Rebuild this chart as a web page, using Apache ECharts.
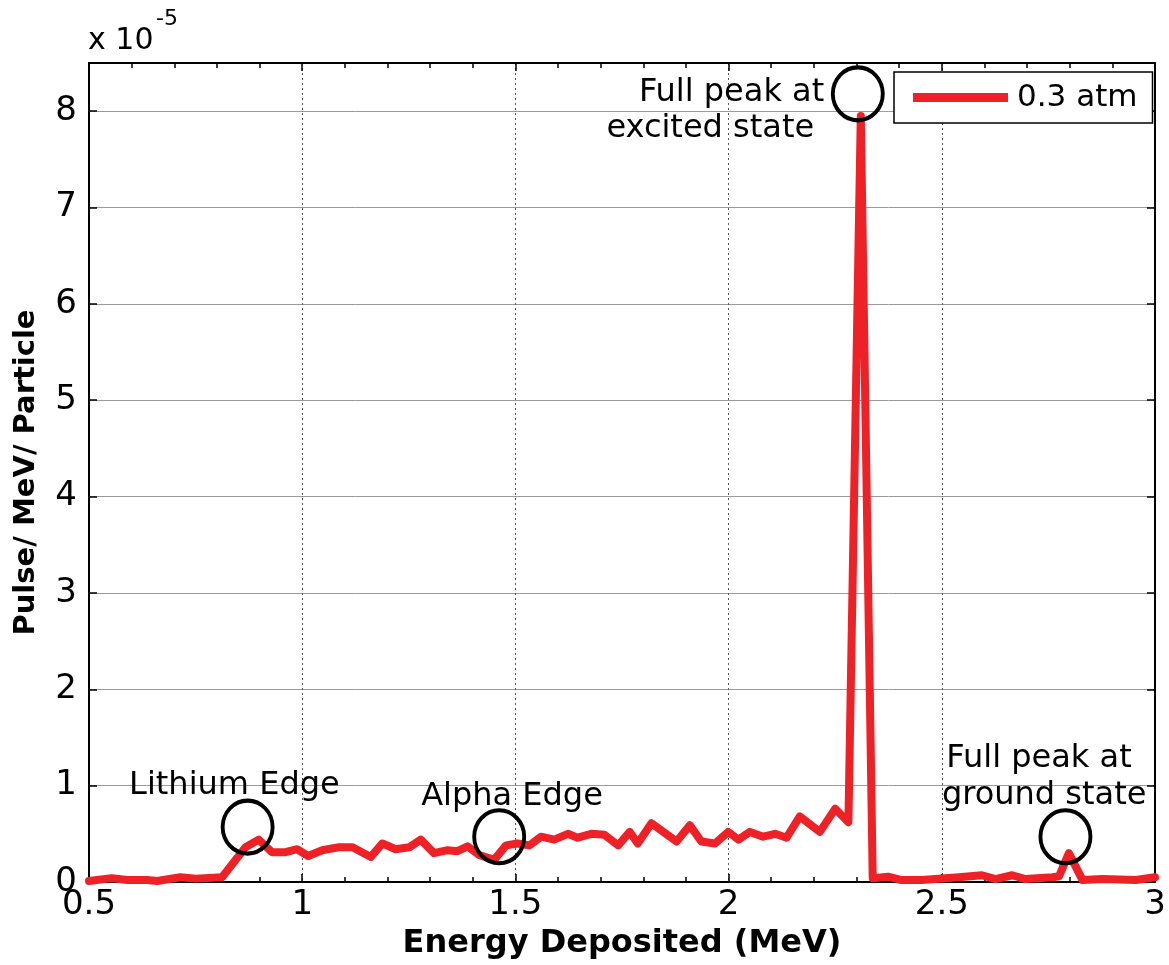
<!DOCTYPE html>
<html>
<head>
<meta charset="utf-8">
<script src="https://cdn.jsdelivr.net/npm/echarts@6/dist/echarts.min.js"></script>
<style>
  html, body { margin: 0; padding: 0; background: #fff; }
  #chart { width: 1169px; height: 965px; }
</style>
</head>
<body>
<div id="chart"></div>
<script>
// Spectrum: energy deposited (MeV) vs pulses per MeV per particle (x 1e-5)
const energy = [
  0.5, 0.553, 0.59, 0.636, 0.66, 0.714, 0.75, 0.812, 0.867, 0.898,
  0.929, 0.961, 0.988, 1.014, 1.047, 1.086, 1.118, 1.161, 1.188, 1.219,
  1.251, 1.278, 1.309, 1.341, 1.364, 1.388, 1.415, 1.45, 1.478, 1.505,
  1.533, 1.56, 1.591, 1.623, 1.646, 1.678, 1.709, 1.741, 1.768, 1.787,
  1.819, 1.878, 1.909, 1.936, 1.968, 1.999, 2.023, 2.05, 2.081, 2.109,
  2.136, 2.167, 2.214, 2.25, 2.281, 2.31, 2.338, 2.374, 2.406, 2.453,
  2.485, 2.54, 2.594, 2.626, 2.665, 2.696, 2.76, 2.775, 2.798, 2.83,
  2.877, 2.955, 3.0
];
const pulse = [
  0.01, 0.04, 0.02, 0.02, 0.01, 0.05, 0.035, 0.05, 0.36, 0.44,
  0.31, 0.31, 0.34, 0.27, 0.33, 0.36, 0.36, 0.26, 0.40, 0.34,
  0.36, 0.44, 0.30, 0.33, 0.32, 0.37, 0.28, 0.23, 0.38, 0.40,
  0.38, 0.47, 0.44, 0.50, 0.46, 0.50, 0.49, 0.38, 0.52, 0.40,
  0.61, 0.42, 0.59, 0.42, 0.40, 0.52, 0.44, 0.52, 0.47, 0.50,
  0.46, 0.68, 0.52, 0.76, 0.62, 7.95, 0.04, 0.055, 0.02, 0.02,
  0.03, 0.05, 0.07, 0.03, 0.07, 0.03, 0.05, 0.06, 0.30, 0.02,
  0.03, 0.02, 0.05
];
const seriesName = '0.3 atm';

// Axis ranges and steps
const xRange = [0.5, 3];
const xStep = 0.5;
const yRange = [0, 8.5];
const yStep = 1;
const xTitle = 'Energy Deposited (MeV)';
const yTitle = 'Pulse/ MeV/ Particle';
const yExponent = ['x 10', '-5'];

// Annotations: rings around features and their captions (data coordinates)
const ringCenters = [[0.872, 0.57], [1.462, 0.47], [2.303, 8.18], [2.79, 0.47]];
const noteTexts = ['Lithium Edge', 'Alpha Edge', 'Full peak at', 'excited state', 'Full peak at', 'ground state'];
const noteAnchors = [[0.841, 1.0], [1.492, 0.89], [2.007, 8.19], [1.957, 7.82], [2.728, 1.275], [2.74, 0.90]];

const FONT = 'DejaVu Sans';
const chart = echarts.init(document.getElementById('chart'), null, { renderer: 'canvas' });

const lineData = energy.map((e, i) => [e, pulse[i]]);

const baseX = { type: 'value', min: xRange[0], max: xRange[1], interval: xStep };
const baseY = { type: 'value', min: yRange[0], max: yRange[1], interval: yStep };
const frameLine = { show: true, onZero: false, lineStyle: { color: '#000', width: 2 } };
const majorTick = { show: true, inside: true, length: 8, lineStyle: { color: '#000', width: 1.5 } };
const minorTickX = { show: true, splitNumber: 5, length: 5, lineStyle: { color: '#000', width: 1.5 } };

chart.setOption({
  backgroundColor: '#fff',
  animation: false,
  grid: { left: 89, right: 14, top: 63, bottom: 83, containLabel: false, outerBoundsMode: 'none' },
  xAxis: [
    Object.assign({}, baseX, {
      position: 'bottom',
      name: xTitle,
      nameLocation: 'middle',
      nameGap: 46,
      nameTextStyle: { fontFamily: FONT, fontWeight: 'bold', fontSize: 32, color: '#000' },
      axisLine: frameLine,
      axisTick: majorTick,
      minorTick: minorTickX,
      axisLabel: { fontFamily: FONT, fontSize: 34, color: '#000', margin: 6 },
      splitLine: { show: true, lineStyle: { color: '#555', width: 1, type: [2, 3] } }
    }),
    Object.assign({}, baseX, {
      position: 'top',
      axisLine: frameLine,
      axisTick: majorTick,
      minorTick: minorTickX,
      axisLabel: { show: false },
      splitLine: { show: false }
    })
  ],
  yAxis: [
    Object.assign({}, baseY, {
      position: 'left',
      name: yTitle,
      nameLocation: 'middle',
      nameGap: 48,
      nameTextStyle: { fontFamily: FONT, fontWeight: 'bold', fontSize: 29, color: '#000' },
      axisLine: frameLine,
      axisTick: majorTick,
      axisLabel: {
        fontFamily: FONT, fontSize: 34, color: '#000', margin: 12,
        showMaxLabel: false,
        formatter: v => (Number.isInteger(v) ? String(v) : '')
      },
      splitLine: { show: true, lineStyle: { color: '#9a9a9a', width: 1 } }
    }),
    Object.assign({}, baseY, {
      position: 'right',
      axisLine: frameLine,
      axisTick: majorTick,
      axisLabel: { show: false },
      splitLine: { show: false }
    })
  ],
  legend: {
    data: [seriesName],
    left: 894,
    top: 72,
    backgroundColor: '#fff',
    borderColor: '#000',
    borderWidth: 1.5,
    borderRadius: 0,
    padding: [10, 15, 10, 19],
    itemWidth: 95,
    itemHeight: 9,
    icon: 'rect',
    textStyle: { fontFamily: FONT, fontSize: 31, color: '#000', padding: [0, 0, 0, 4] },
    z: 10
  },
  graphic: [
    {
      type: 'text', x: 88, y: 41, z: 10,
      style: { text: yExponent[0], font: '30px "DejaVu Sans"', fill: '#000', verticalAlign: 'middle' }
    },
    {
      type: 'text', x: 156, y: 19, z: 10,
      style: { text: yExponent[1], font: '22px "DejaVu Sans"', fill: '#000', verticalAlign: 'middle' }
    }
  ],
  series: [
    {
      name: seriesName,
      type: 'line',
      xAxisIndex: 0, yAxisIndex: 0,
      data: lineData,
      showSymbol: false,
      symbol: 'none',
      clip: true,
      lineStyle: { color: '#EE2127', width: 8, cap: 'round', join: 'round' },
      itemStyle: { color: '#EE2127' },
      z: 3
    },
    {
      name: 'rings',
      type: 'scatter',
      data: ringCenters,
      symbol: 'circle',
      symbolSize: [50, 53],
      clip: false,
      silent: true,
      itemStyle: { color: 'rgba(0,0,0,0)', borderColor: '#000', borderWidth: 4, opacity: 1 },
      z: 4
    },
    {
      name: 'notes',
      type: 'scatter',
      data: noteAnchors.map((p, i) => ({ value: p, name: noteTexts[i] })),
      symbolSize: 0,
      clip: false,
      silent: true,
      itemStyle: { opacity: 1 },
      label: {
        show: true,
        position: 'inside',
        formatter: '{b}',
        fontFamily: FONT,
        fontSize: 32,
        color: '#000',
        opacity: 1
      },
      z: 5
    }
  ]
});
</script>
</body>
</html>
